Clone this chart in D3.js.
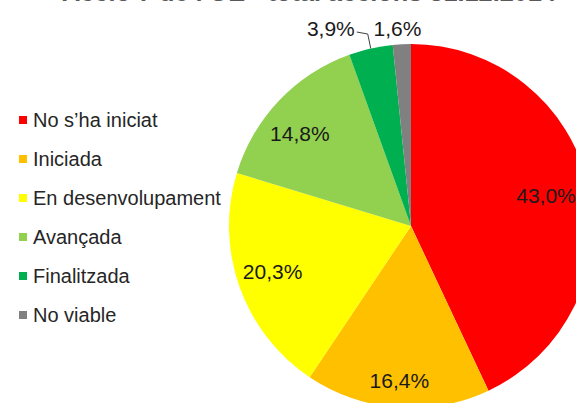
<!DOCTYPE html>
<html>
<head>
<meta charset="utf-8">
<script src="https://cdn.jsdelivr.net/npm/d3@7"></script>
<style>
  html, body { margin: 0; padding: 0; background: #fff; }
  svg { display: block; font-family: "Liberation Sans", Arial, sans-serif; }
</style>
</head>
<body>
<div id="chart"></div>
<script>
// data
const categories = ["No s\u2019ha iniciat", "Iniciada", "En desenvolupament", "Avançada", "Finalitzada", "No viable"];
const values = [43.0, 16.4, 20.3, 14.8, 3.9, 1.6];
const colors = ["#ff0000", "#ffc000", "#ffff00", "#92d050", "#00b050", "#808080"];
const title = "Acció 7 de l'OE - total accions 31.12.2014";

const width = 576, height = 403;
const cx = 411, cy = 226, R = 182;

const svg = d3.select("#chart").append("svg")
  .attr("width", width)
  .attr("height", height);

svg.append("rect").attr("width", width).attr("height", height).attr("fill", "#fff");

// title (mostly cut off at the top)
svg.append("text")
  .attr("x", 309)
  .attr("y", 1)
  .attr("text-anchor", "middle")
  .attr("font-size", 24)
  .attr("font-weight", "bold")
  .attr("fill", "#595959")
  .attr("textLength", 494)
  .attr("lengthAdjust", "spacingAndGlyphs")
  .text(title);

const fmt = v => d3.format(".1f")(v).replace(".", ",") + "%";

const pie = d3.pie().sort(null).value(d => d);
const arcs = pie(values);
const arc = d3.arc().innerRadius(0).outerRadius(R);

const g = svg.append("g").attr("transform", `translate(${cx},${cy})`);

g.selectAll("path.slice")
  .data(arcs)
  .enter().append("path")
  .attr("class", "slice")
  .attr("d", arc)
  .attr("fill", (d, i) => colors[i]);

// labels inside the big slices
const lblR = [0.76, 0.85, 0.79, 0.79];
const lblShift = [[0, 0], [0, 0], [-3, -3], [-7, 7]];
arcs.forEach(function(d, i) {
  if (i < 4) {
    const la = d3.arc().innerRadius(R * lblR[i]).outerRadius(R * lblR[i]);
    const c = la.centroid(d);
    g.append("text")
      .attr("x", c[0] + lblShift[i][0])
      .attr("y", c[1] + lblShift[i][1])
      .attr("text-anchor", "middle")
      .attr("dominant-baseline", "central")
      .attr("font-size", 21)
      .attr("fill", "#1a1a1a")
      .text(fmt(values[i]));
  }
});

// small slices: labels outside
const mid = d => (d.startAngle + d.endAngle) / 2;

// Finalitzada, with leader line
const dF = arcs[4];
const pF = [R * Math.sin(mid(dF)), -R * Math.cos(mid(dF))];
const elbow = [pF[0] - 3, -R - 10];
g.append("polyline")
  .attr("points", [pF, elbow, [elbow[0] - 11, elbow[1] - 2]].map(p => p.join(",")).join(" "))
  .attr("fill", "none")
  .attr("stroke", "#404040")
  .attr("stroke-width", 1);
g.append("text")
  .attr("x", elbow[0] - 13)
  .attr("y", -R - 8)
  .attr("text-anchor", "end")
  .attr("font-size", 21)
  .attr("fill", "#1a1a1a")
  .text(fmt(values[4]));

// No viable
const dN = arcs[5];
g.append("text")
  .attr("x", R * 1.05 * Math.sin(mid(dN)) - 4)
  .attr("y", -R - 8)
  .attr("text-anchor", "middle")
  .attr("font-size", 21)
  .attr("fill", "#1a1a1a")
  .text(fmt(values[5]));

// legend
const legend = svg.append("g").attr("transform", "translate(19,120)");
const rowH = 39;
const item = legend.selectAll("g.item")
  .data(categories)
  .enter().append("g")
  .attr("class", "item")
  .attr("transform", (d, i) => `translate(0,${i * rowH})`);

item.append("rect")
  .attr("x", 0)
  .attr("y", -4)
  .attr("width", 8)
  .attr("height", 8)
  .attr("fill", (d, i) => colors[i]);

item.append("text")
  .attr("x", 14)
  .attr("y", 0)
  .attr("dominant-baseline", "central")
  .attr("font-size", 20)
  .attr("fill", "#262626")
  .text(d => d);
</script>
</body>
</html>
